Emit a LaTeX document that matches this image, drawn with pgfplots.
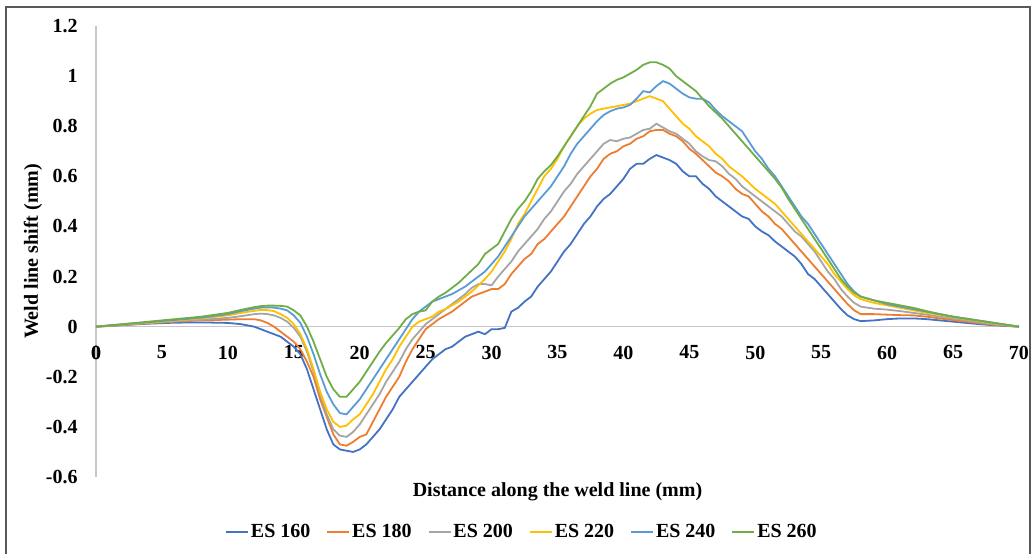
\documentclass[border=0pt]{standalone}
\usepackage{pgfplots}
\pgfplotsset{compat=1.18}
\usepackage{fontspec}
\setmainfont{Liberation Serif}
\definecolor{c1}{HTML}{4472C4}
\definecolor{c2}{HTML}{ED7D31}
\definecolor{c3}{HTML}{A5A5A5}
\definecolor{c4}{HTML}{FFC000}
\definecolor{c5}{HTML}{5B9BD5}
\definecolor{c6}{HTML}{70AD47}
\begin{document}
\begin{tikzpicture}
\begin{axis}[
  scale only axis, width=461.5pt, height=225.5pt,
  xmin=0, xmax=70, ymin=-0.6, ymax=1.2,
  axis x line*=middle, axis y line*=left,
  axis line style={draw=black!22, line width=0.7pt},
  hide obscured x ticks=false,
  xtick={0,5,10,15,20,25,30,35,40,45,50,55,60,65,70},
  ytick={-0.6,-0.4,-0.2,0,0.2,0.4,0.6,0.8,1,1.2},
  yticklabels={-0.6,-0.4,-0.2,0,0.2,0.4,0.6,0.8,1,1.2},
  xticklabels={0,5,10,15,20,25,30,35,40,45,50,55,60,65,70},
  major tick length=0pt,
  tick label style={font=\bfseries\fontsize{10}{12}\selectfont},
  xticklabel style={yshift=-6pt},
  yticklabel style={xshift=-5.7pt},
  clip=false,
  legend columns=6,
  legend style={draw=none, fill=none, at={(axis description cs:0.4615,-0.122)}, anchor=center,
    font=\bfseries\fontsize{10}{12}\selectfont,
    nodes={inner sep=1pt},
    /tikz/every even column/.append style={column sep=7pt}},
  legend image code/.code={\draw[#1] (0pt,0pt) -- (11pt,0pt);},
  every axis plot/.append style={line width=0.9pt},
]
\addplot[c1] table {
0 0
2 0.006
4 0.012
6 0.016
8 0.017
10 0.015
11 0.01
12 0.0
13 -0.02
14 -0.04
15 -0.08
15.5 -0.11
16 -0.17
16.5 -0.25
17 -0.33
17.5 -0.41
18 -0.47
18.5 -0.49
19 -0.495
19.5 -0.5
20 -0.49
20.5 -0.47
21 -0.44
21.5 -0.41
22 -0.37
22.5 -0.33
23 -0.28
23.5 -0.25
24 -0.22
24.5 -0.19
25 -0.16
25.5 -0.13
26 -0.11
26.5 -0.09
27 -0.08
27.5 -0.06
28 -0.04
28.5 -0.03
29 -0.02
29.5 -0.03
30 -0.01
30.5 -0.01
31 -0.005
31.5 0.06
32 0.075
32.5 0.1
33 0.12
33.5 0.16
34 0.19
34.5 0.22
35 0.26
35.5 0.3
36 0.33
36.5 0.37
37 0.41
37.5 0.44
38 0.48
38.5 0.51
39 0.53
39.5 0.56
40 0.59
40.5 0.63
41 0.65
41.5 0.65
42 0.67
42.5 0.685
43 0.675
43.5 0.665
44 0.65
44.5 0.62
45 0.60
45.5 0.6
46 0.57
46.5 0.55
47 0.52
47.5 0.50
48 0.48
48.5 0.46
49 0.44
49.5 0.43
50 0.40
50.5 0.38
51 0.365
51.5 0.34
52 0.32
52.5 0.30
53 0.28
53.5 0.25
54 0.21
54.5 0.19
55 0.16
55.5 0.13
56 0.10
56.5 0.07
57 0.045
57.5 0.03
58 0.022
59 0.025
60 0.03
61 0.033
62 0.033
63 0.03
64 0.025
65 0.02
66 0.015
67 0.01
68 0.006
69 0.003
70 0
};
\addlegendentry{ES 160}
\addplot[c2] table {
0 0
2 0.007
4 0.014
6 0.02
8 0.025
10 0.028
11 0.03
12 0.03
12.5 0.025
13 0.015
13.5 0.0
14 -0.02
14.5 -0.04
15 -0.06
15.5 -0.09
16 -0.14
16.5 -0.2
17 -0.29
17.5 -0.36
18 -0.43
18.5 -0.47
19 -0.475
19.5 -0.46
20 -0.44
20.5 -0.43
21 -0.38
21.5 -0.33
22 -0.28
22.5 -0.24
23 -0.2
23.5 -0.14
24 -0.09
24.5 -0.05
25 -0.01
25.5 0.01
26 0.03
26.5 0.045
27 0.06
27.5 0.08
28 0.1
28.5 0.12
29 0.13
29.5 0.14
30 0.15
30.5 0.15
31 0.17
31.5 0.21
32 0.24
32.5 0.27
33 0.29
33.5 0.33
34 0.35
34.5 0.38
35 0.41
35.5 0.44
36 0.48
36.5 0.52
37 0.56
37.5 0.60
38 0.63
38.5 0.67
39 0.69
39.5 0.70
40 0.72
40.5 0.73
41 0.75
41.5 0.76
42 0.78
42.5 0.785
43 0.785
43.5 0.77
44 0.76
44.5 0.74
45 0.71
45.5 0.69
46 0.665
46.5 0.64
47 0.615
47.5 0.60
48 0.58
48.5 0.55
49 0.53
49.5 0.52
50 0.49
50.5 0.46
51 0.44
51.5 0.41
52 0.39
52.5 0.36
53 0.33
53.5 0.30
54 0.27
54.5 0.24
55 0.21
55.5 0.18
56 0.15
56.5 0.12
57 0.09
57.5 0.065
58 0.05
59 0.05
60 0.048
61 0.046
62 0.045
63 0.04
64 0.033
65 0.026
66 0.02
67 0.014
68 0.008
69 0.004
70 0
};
\addlegendentry{ES 180}
\addplot[c3] table {
0 0
2 0.008
4 0.015
6 0.022
8 0.028
10 0.035
11 0.042
12 0.05
12.5 0.052
13 0.05
13.5 0.045
14 0.035
14.5 0.02
15 -0.005
15.5 -0.04
16 -0.1
16.5 -0.18
17 -0.27
17.5 -0.35
18 -0.41
18.5 -0.435
19 -0.44
19.5 -0.42
20 -0.39
20.5 -0.35
21 -0.31
21.5 -0.27
22 -0.22
22.5 -0.18
23 -0.14
23.5 -0.09
24 -0.05
24.5 -0.02
25 0.01
25.5 0.03
26 0.05
26.5 0.07
27 0.09
27.5 0.11
28 0.13
28.5 0.155
29 0.17
29.5 0.17
30 0.165
30.5 0.2
31 0.23
31.5 0.26
32 0.3
32.5 0.33
33 0.36
33.5 0.39
34 0.43
34.5 0.46
35 0.5
35.5 0.54
36 0.57
36.5 0.61
37 0.64
37.5 0.67
38 0.7
38.5 0.73
39 0.745
39.5 0.74
40 0.75
40.5 0.755
41 0.77
41.5 0.785
42 0.79
42.5 0.81
43 0.795
43.5 0.78
44 0.77
44.5 0.75
45 0.73
45.5 0.70
46 0.68
46.5 0.665
47 0.66
47.5 0.64
48 0.61
48.5 0.59
49 0.56
49.5 0.54
50 0.52
50.5 0.50
51 0.48
51.5 0.46
52 0.44
52.5 0.41
53 0.38
53.5 0.36
54 0.33
54.5 0.30
55 0.26
55.5 0.22
56 0.19
56.5 0.15
57 0.12
57.5 0.095
58 0.08
59 0.072
60 0.068
61 0.062
62 0.055
63 0.048
64 0.04
65 0.032
66 0.025
67 0.017
68 0.01
69 0.005
70 0
};
\addlegendentry{ES 200}
\addplot[c4] table {
0 0
2 0.008
4 0.016
6 0.025
8 0.033
10 0.045
11 0.055
12 0.063
12.5 0.067
13 0.066
13.5 0.062
14 0.05
14.5 0.035
15 0.01
15.5 -0.03
16 -0.09
16.5 -0.17
17 -0.26
17.5 -0.33
18 -0.38
18.5 -0.4
19 -0.395
19.5 -0.37
20 -0.35
20.5 -0.31
21 -0.27
21.5 -0.22
22 -0.17
22.5 -0.13
23 -0.08
23.5 -0.04
24 0.0
24.5 0.02
25 0.03
25.5 0.04
26 0.06
26.5 0.07
27 0.085
27.5 0.1
28 0.12
28.5 0.14
29 0.165
29.5 0.19
30 0.22
30.5 0.26
31 0.3
31.5 0.35
32 0.41
32.5 0.45
33 0.5
33.5 0.55
34 0.6
34.5 0.63
35 0.67
35.5 0.72
36 0.76
36.5 0.8
37 0.83
37.5 0.85
38 0.865
38.5 0.87
39 0.875
39.5 0.88
40 0.885
40.5 0.89
41 0.9
41.5 0.91
42 0.92
42.5 0.91
43 0.9
43.5 0.87
44 0.84
44.5 0.81
45 0.79
45.5 0.76
46 0.74
46.5 0.72
47 0.69
47.5 0.67
48 0.64
48.5 0.62
49 0.6
49.5 0.575
50 0.55
50.5 0.53
51 0.51
51.5 0.49
52 0.46
52.5 0.43
53 0.4
53.5 0.37
54 0.34
54.5 0.31
55 0.28
55.5 0.25
56 0.21
56.5 0.18
57 0.15
57.5 0.125
58 0.11
59 0.095
60 0.085
61 0.075
62 0.065
63 0.055
64 0.047
65 0.038
66 0.03
67 0.022
68 0.014
69 0.007
70 0
};
\addlegendentry{ES 220}
\addplot[c5] table {
0 0
2 0.009
4 0.018
6 0.027
8 0.036
10 0.05
11 0.062
12 0.072
12.5 0.076
13 0.077
13.5 0.076
14 0.072
14.5 0.065
15 0.045
15.5 0.015
16 -0.04
16.5 -0.11
17 -0.19
17.5 -0.26
18 -0.31
18.5 -0.345
19 -0.35
19.5 -0.32
20 -0.29
20.5 -0.25
21 -0.21
21.5 -0.17
22 -0.13
22.5 -0.09
23 -0.05
23.5 -0.01
24 0.03
24.5 0.06
25 0.08
25.5 0.1
26 0.11
26.5 0.12
27 0.13
27.5 0.145
28 0.16
28.5 0.18
29 0.2
29.5 0.22
30 0.25
30.5 0.28
31 0.32
31.5 0.36
32 0.4
32.5 0.44
33 0.47
33.5 0.5
34 0.53
34.5 0.56
35 0.6
35.5 0.64
36 0.69
36.5 0.73
37 0.76
37.5 0.79
38 0.82
38.5 0.845
39 0.86
39.5 0.87
40 0.875
40.5 0.885
41 0.91
41.5 0.94
42 0.935
42.5 0.96
43 0.98
43.5 0.97
44 0.95
44.5 0.93
45 0.915
45.5 0.91
46 0.91
46.5 0.895
47 0.865
47.5 0.84
48 0.82
48.5 0.80
49 0.78
49.5 0.74
50 0.70
50.5 0.67
51 0.63
51.5 0.6
52 0.56
52.5 0.52
53 0.48
53.5 0.44
54 0.41
54.5 0.37
55 0.33
55.5 0.29
56 0.25
56.5 0.21
57 0.17
57.5 0.14
58 0.12
59 0.105
60 0.09
61 0.08
62 0.07
63 0.06
64 0.05
65 0.04
66 0.032
67 0.024
68 0.016
69 0.008
70 0
};
\addlegendentry{ES 240}
\addplot[c6] table {
0 0
2 0.01
4 0.02
6 0.03
8 0.04
10 0.055
11 0.067
12 0.078
12.5 0.082
13 0.084
13.5 0.084
14 0.083
14.5 0.08
15 0.065
15.5 0.045
16 0.0
16.5 -0.06
17 -0.13
17.5 -0.2
18 -0.25
18.5 -0.28
19 -0.28
19.5 -0.25
20 -0.22
20.5 -0.18
21 -0.14
21.5 -0.1
22 -0.065
22.5 -0.035
23 -0.005
23.5 0.03
24 0.05
24.5 0.06
25 0.065
25.5 0.1
26 0.12
26.5 0.135
27 0.155
27.5 0.175
28 0.2
28.5 0.225
29 0.25
29.5 0.29
30 0.31
30.5 0.33
31 0.38
31.5 0.43
32 0.47
32.5 0.5
33 0.54
33.5 0.59
34 0.62
34.5 0.645
35 0.68
35.5 0.72
36 0.76
36.5 0.8
37 0.84
37.5 0.88
38 0.93
38.5 0.95
39 0.97
39.5 0.985
40 0.995
40.5 1.01
41 1.025
41.5 1.045
42 1.055
42.5 1.055
43 1.045
43.5 1.03
44 1.0
44.5 0.98
45 0.96
45.5 0.94
46 0.91
46.5 0.88
47 0.855
47.5 0.83
48 0.8
48.5 0.77
49 0.74
49.5 0.71
50 0.68
50.5 0.65
51 0.62
51.5 0.59
52 0.555
52.5 0.51
53 0.47
53.5 0.43
54 0.39
54.5 0.35
55 0.31
55.5 0.27
56 0.23
56.5 0.19
57 0.16
57.5 0.135
58 0.12
59 0.105
60 0.095
61 0.085
62 0.075
63 0.062
64 0.05
65 0.04
66 0.032
67 0.024
68 0.016
69 0.008
70 0
};
\addlegendentry{ES 260}
\node[font=\bfseries\fontsize{10}{12}\selectfont] at (axis description cs:0.5,0) [yshift=-7.5pt] {Distance along the weld line (mm)};
\node[font=\bfseries\fontsize{10}{12}\selectfont, anchor=north] at (axis cs:0,0) [yshift=-6pt] {0};
\coordinate (ylab) at (axis description cs:0,0.5);
\end{axis}
\node[font=\bfseries\fontsize{10}{12}\selectfont, rotate=90] at ([xshift=-31.5pt]ylab) {Weld line shift (mm)};
\draw[line width=0.8pt, black!65] (-45pt,-60pt) rectangle (467pt,235pt);
\pgfresetboundingbox
\useasboundingbox (-48pt,-38pt) rectangle (468.5pt,238.5pt);
\end{tikzpicture}
\end{document}
